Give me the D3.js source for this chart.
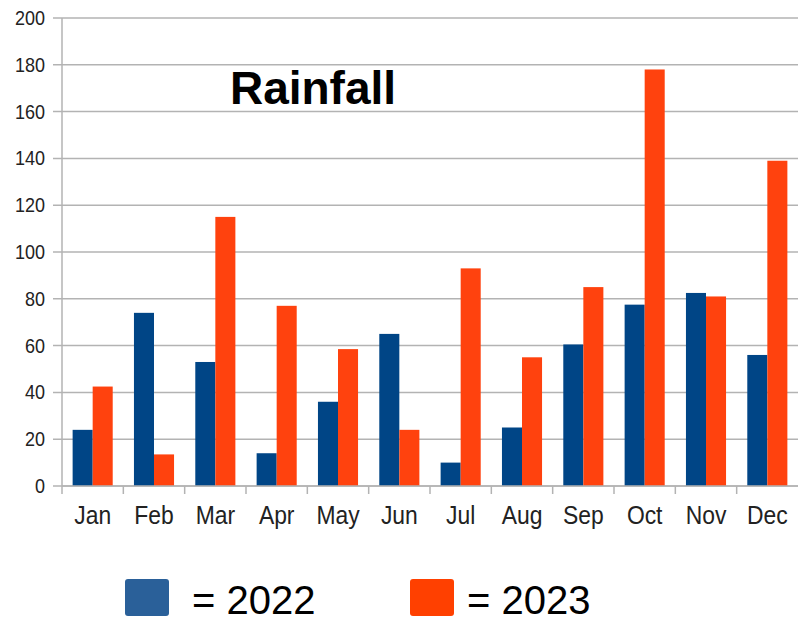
<!DOCTYPE html>
<html>
<head>
  <meta charset="utf-8">
  <script src="https://d3js.org/d3.v7.min.js"></script>
  <style>
    body { margin: 0; background: #fff; }
    svg { display: block; font-family: "Liberation Sans", Arial, sans-serif; }
  </style>
</head>
<body>
<script>
// monthly rainfall
var months = ["Jan", "Feb", "Mar", "Apr", "May", "Jun", "Jul", "Aug", "Sep", "Oct", "Nov", "Dec"];
var years = ["2022", "2023"];
var rain2022 = [24, 74, 53, 14, 36, 65, 10, 25, 60.5, 77.5, 82.5, 56];
var rain2023 = [42.5, 13.5, 115, 77, 58.5, 24, 93, 55, 85, 178, 81, 139];
var yTicks = [0, 20, 40, 60, 80, 100, 120, 140, 160, 180, 200];

var barColors = {"2022": "#004586", "2023": "#ff420e"};
var legendColors = {"2022": "#2a6099", "2023": "#ff4000"};

var W = 798, H = 621;
var plot = {left: 62, right: 798, top: 18, bottom: 486};

var svg = d3.select("body").append("svg")
    .attr("width", W)
    .attr("height", H);

var x0 = d3.scaleBand()
    .domain(months)
    .range([plot.left, plot.right]);

var x1 = d3.scaleBand()
    .domain(years)
    .range([0, x0.bandwidth()])
    .paddingOuter(0.53);

var y = d3.scaleLinear()
    .domain([0, 200])
    .range([plot.bottom, plot.top]);

// horizontal gridlines
svg.append("g")
  .selectAll("line")
  .data(yTicks)
  .enter().append("line")
    .attr("x1", plot.left - 9)
    .attr("x2", plot.right)
    .attr("y1", function (d) { return y(d); })
    .attr("y2", function (d) { return y(d); })
    .attr("stroke", "#b3b3b3")
    .attr("stroke-width", 1.5);

// y tick labels
svg.append("g")
  .selectAll("text")
  .data(yTicks)
  .enter().append("text")
    .attr("transform", function (d) { return "translate(45," + (y(d) + 7) + ") scale(0.9,1)"; })
    .attr("text-anchor", "end")
    .style("font-size", "20px")
    .style("fill", "#222")
    .text(function (d) { return d; });

// bars
var rows = months.map(function (m, i) {
  return {month: m, values: [{year: "2022", v: rain2022[i]}, {year: "2023", v: rain2023[i]}]};
});

svg.append("g")
  .selectAll("g")
  .data(rows)
  .enter().append("g")
    .attr("transform", function (d) { return "translate(" + x0(d.month) + ",0)"; })
  .selectAll("rect")
  .data(function (d) { return d.values; })
  .enter().append("rect")
    .attr("x", function (d) { return x1(d.year); })
    .attr("width", x1.bandwidth())
    .attr("y", function (d) { return y(d.v); })
    .attr("height", function (d) { return y(0) - y(d.v); })
    .attr("fill", function (d) { return barColors[d.year]; });

// axis lines and category ticks
svg.append("line")
    .attr("x1", plot.left).attr("x2", plot.left)
    .attr("y1", plot.top).attr("y2", plot.bottom + 8)
    .attr("stroke", "#b3b3b3").attr("stroke-width", 1.5);

svg.append("line")
    .attr("x1", plot.left).attr("x2", plot.right)
    .attr("y1", plot.bottom).attr("y2", plot.bottom)
    .attr("stroke", "#b3b3b3").attr("stroke-width", 1.5);

svg.append("g")
  .selectAll("line")
  .data(months.slice(1))
  .enter().append("line")
    .attr("x1", function (d) { return x0(d); })
    .attr("x2", function (d) { return x0(d); })
    .attr("y1", plot.bottom)
    .attr("y2", plot.bottom + 8)
    .attr("stroke", "#b3b3b3").attr("stroke-width", 1.5);

// month labels
svg.append("g")
  .selectAll("text")
  .data(months)
  .enter().append("text")
    .attr("transform", function (d) {
      return "translate(" + (x0(d) + x0.bandwidth() / 2) + ",524) scale(0.88,1)";
    })
    .attr("text-anchor", "middle")
    .style("font-size", "26px")
    .style("fill", "#222")
    .text(function (d) { return d; });

// title
svg.append("text")
    .attr("x", 313)
    .attr("y", 104)
    .attr("text-anchor", "middle")
    .style("font-size", "46px")
    .style("font-weight", "bold")
    .style("fill", "#000")
    .text("Rainfall");

// legend
var legendX = {"2022": 125, "2023": 410};
var legend = svg.append("g")
  .selectAll("g")
  .data(years)
  .enter().append("g")
    .attr("transform", function (d) { return "translate(" + legendX[d] + ",579)"; });

legend.append("rect")
    .attr("width", 44)
    .attr("height", 37)
    .attr("rx", 3)
    .attr("fill", function (d) { return legendColors[d]; });

legend.append("text")
    .attr("x", function (d) { return d === "2022" ? 67 : 57; })
    .attr("y", 35)
    .style("font-size", "40px")
    .style("fill", "#000")
    .text(function (d) { return "= " + d; });
</script>
</body>
</html>
